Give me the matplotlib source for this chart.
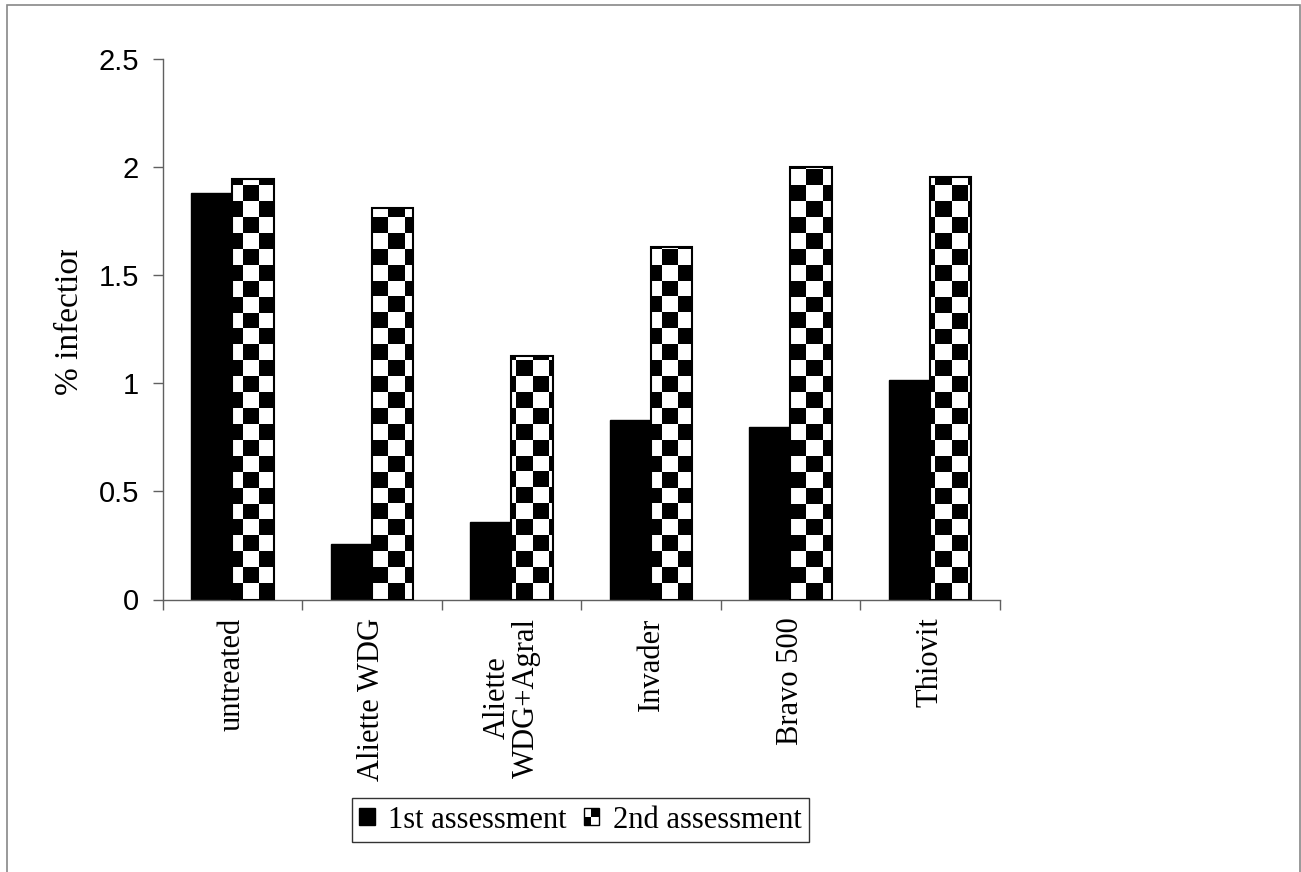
import numpy as np
import matplotlib
matplotlib.use('Agg')
import matplotlib.pyplot as plt
from matplotlib.patches import Rectangle, Patch
from matplotlib.legend_handler import HandlerBase
from matplotlib.transforms import Bbox

treatments = ['untreated', 'Aliette WDG', 'Aliette\nWDG+Agral', 'Invader', 'Bravo 500', 'Thiovit']
first_assessment = [1.88, 0.255, 0.357, 0.83, 0.80, 1.015]
second_assessment = [1.945, 1.81, 1.125, 1.63, 2.0, 1.955]
series_names = ['1st assessment', '2nd assessment']
y_ticks = [0, 0.5, 1, 1.5, 2, 2.5]

serif = ['Liberation Serif', 'DejaVu Serif']
sans = ['Liberation Sans', 'DejaVu Sans']
axis_grey = '#606060'

W, H = 1301, 872
fig = plt.figure(figsize=(W / 100, H / 100), dpi=100)
ax = fig.add_axes([162.7 / W, 1 - 599.5 / H, (999.7 - 162.7) / W, (599.5 - 59.3) / H])

# outer chart border
fig.patches.append(Rectangle((7 / W, -0.01), (1300 - 7) / W, 1.01 - 5 / H,
                             transform=fig.transFigure, fill=False,
                             edgecolor='#888888', linewidth=1.2))

x = np.arange(len(treatments))
w = 0.295

ax.bar(x - w / 2, first_assessment, w, color='black', edgecolor='black', linewidth=1, zorder=2)

# checkerboard fill for the 2nd assessment bars
ax_w_px = 999.7 - 162.7
ax_h_px = 599.5 - 59.3
nx = int(round(ax_w_px / 16))
ny = int(round(ax_h_px / 16))
iy, ix = np.indices((ny, nx))
checker = ((ix + iy) % 2).astype(float)

bars2 = ax.bar(x + w / 2, second_assessment, w, facecolor='none', edgecolor='black',
               linewidth=1.5, zorder=4)
for b in bars2:
    im = ax.imshow(checker, cmap='gray', vmin=0, vmax=1, interpolation='nearest',
                   extent=(-0.5, 5.5, 0, 2.5), aspect='auto', origin='lower', zorder=3)
    im.set_clip_path(b)

ax.set_xlim(-0.5, len(treatments) - 0.5)
ax.set_ylim(0, 2.5)

for s in ['top', 'right']:
    ax.spines[s].set_visible(False)
for s in ['left', 'bottom']:
    ax.spines[s].set_color(axis_grey)
    ax.spines[s].set_linewidth(1)

ax.set_yticks(y_ticks)
ax.set_yticklabels(['0', '0.5', '1', '1.5', '2', '2.5'], fontfamily=sans, fontsize=21)
ax.tick_params(axis='y', direction='out', length=7, width=1, color=axis_grey, pad=10)

ax.set_xticks(np.arange(-0.5, len(treatments)), labels=[])
ax.tick_params(axis='x', which='major', direction='out', length=7, width=1, color=axis_grey)
ax.set_xticks(x, minor=True)
ax.set_xticklabels(treatments, minor=True, rotation=90, fontfamily=serif, fontsize=22,
                   ha='center', va='top', multialignment='center', linespacing=1.0)
ax.tick_params(axis='x', which='minor', length=0, pad=13)

# y label is cut off at the top in the original
ylab = fig.text(70 / W, 1 - 318 / H, '% infection', rotation=90, fontfamily=serif,
                fontsize=24, ha='center', va='center')
ylab.set_clip_on(True)
ylab.set_clip_box(Bbox.from_extents(0, 0, W, H - 250))


class CheckerHandler(HandlerBase):
    def create_artists(self, legend, orig_handle, xdescent, ydescent, width, height,
                       fontsize, trans):
        arts = [Rectangle((-xdescent, -ydescent), width, height, facecolor='white',
                          edgecolor='black', linewidth=1, transform=trans)]
        hw, hh = width / 2, height / 2
        for (i, j) in [(0, 0), (1, 1)]:
            arts.append(Rectangle((-xdescent + i * hw, -ydescent + j * hh), hw, hh,
                                  facecolor='black', edgecolor='none', transform=trans))
        return arts


h1 = Patch(facecolor='black', edgecolor='black')
h2 = Patch(facecolor='white', edgecolor='black')
leg = fig.legend([h1, h2], series_names, loc='center',
                 bbox_to_anchor=((351 + 810) / 2 / W, 1 - 820 / H),
                 ncol=2, frameon=True, fancybox=False, shadow=False,
                 prop={'family': serif, 'size': 22},
                 handlelength=0.5, handleheight=0.5, handletextpad=0.45,
                 columnspacing=0.55, borderpad=0.25, borderaxespad=0,
                 handler_map={h2: CheckerHandler()})
leg.get_frame().set_edgecolor('black')
leg.get_frame().set_linewidth(1)

fig.savefig('out.png', dpi=100)
